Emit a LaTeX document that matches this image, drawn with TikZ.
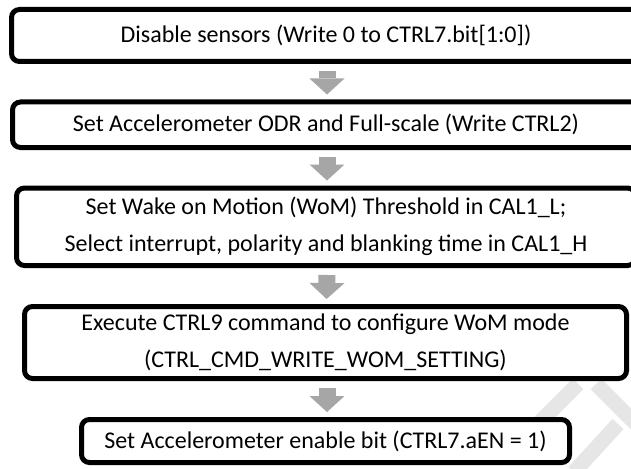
\documentclass[tikz,border=0pt]{standalone}
\usepackage{fontspec}
\setmainfont{Carlito}
\usetikzlibrary{arrows.meta,calc}
\definecolor{arrowgray}{HTML}{A6A6A6}
\definecolor{wmgray}{HTML}{E6E6E6}
\begin{document}
\begin{tikzpicture}[x=1pt,y=-1pt,
  stepbox/.style={draw=black, line width=5pt, rounded corners=8pt, fill=white, align=center, inner sep=0pt, font=\fontsize{24}{37}\selectfont},
  flow/.style={draw=arrowgray, line width=17pt, -{Triangle[width=35pt,length=16pt,line width=0pt]}, shorten <=7pt, shorten >=5pt},
  wm/.style={draw=wmgray, line width=15pt}
]
\clip (0,0) rectangle (631,468);
\fill[white] (0,0) rectangle (631,468);
% watermark fragments
\draw[wm] (578,384) -- (538,424);
\draw[wm] (596,384) -- (640,428);
\draw[wm] (618,424) -- (574,472);
% steps
\node[stepbox, minimum width=629pt, minimum height=52pt] (b1) at (326,35.5) {Disable sensors (Write 0 to CTRL7.bit[1:0])};
\node[stepbox, minimum width=627pt, minimum height=45.5pt] (b2) at (326,124.75) {Set Accelerometer ODR and Full-scale (Write CTRL2)};
\node[stepbox, minimum width=619pt, minimum height=77.5pt] (b3) at (326,226.75) {Set Wake on Motion (WoM) Threshold in CAL1\_L;\\Select interrupt, polarity and blanking time in CAL1\_H};
\node[stepbox, minimum width=602pt, minimum height=72pt] (b4) at (325.5,342.5) {Execute CTRL9 command to configure WoM mode\\(CTRL\_CMD\_WRITE\_WOM\_SETTING)};
\node[stepbox, minimum width=488pt, minimum height=43pt] (b5) at (325.5,441) {Set Accelerometer enable bit (CTRL7.aEN = 1)};
% arrows
\draw[flow] ([xshift=1pt]b1.south) -- ([xshift=1pt]b2.north);
\draw[flow] ([xshift=1pt]b2.south) -- ([xshift=1pt]b3.north);
\draw[flow] ([xshift=1pt]b3.south) -- ([xshift=1pt]b4.north);
\draw[flow] ([xshift=1.5pt]b4.south) -- ([xshift=1.5pt]b5.north);
\end{tikzpicture}
\end{document}
